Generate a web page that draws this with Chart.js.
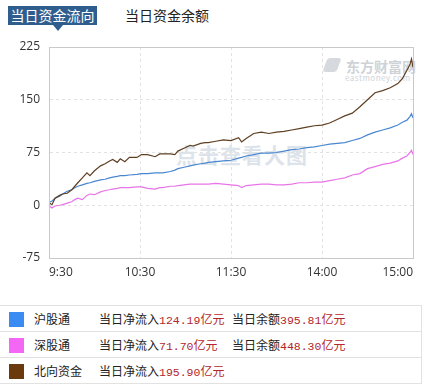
<!DOCTYPE html>
<html>
<head>
<meta charset="utf-8">
<script src="https://cdn.jsdelivr.net/npm/chart.js@4.4.1/dist/chart.umd.min.js"></script>
<style>
  html, body { margin:0; padding:0; background:#fff; }
  body { width:428px; height:389px; position:relative; overflow:hidden;
         font-family:"Noto Sans CJK SC","Noto Sans",sans-serif; color:#222; }
  .tab-on { position:absolute; left:8px; top:6px; width:89px; height:19px; background:#2f5e8e;
            color:#fff; font-size:14px; line-height:19px; text-align:center; }
  .tab-on:after { content:""; position:absolute; left:45px; top:19px; border-left:5px solid transparent;
            border-right:5px solid transparent; border-top:6px solid #2f5e8e; }
  .tab-off { position:absolute; left:125px; top:6px; font-size:14px; line-height:19px; color:#222; }
  #wrap { position:absolute; left:0; top:30px; width:428px; height:260px; }
  .wm1 { position:absolute; left:176px; top:139px; font-size:21px; font-weight:bold; color:#dde3ea; letter-spacing:1px; }
  .wm2 { position:absolute; left:346px; top:56px; font-size:14px; font-weight:bold; color:#cfd3d8; }
  .wm3 { position:absolute; left:345px; top:72px; font-size:8px; color:#cfd3d8; letter-spacing:0.5px; }
  .wm4 { position:absolute; left:325px; top:58px; width:14px; height:14px; border-radius:3px; background:#d6d9dd; transform:skewX(-20deg); }
  canvas { position:relative; z-index:2; }
  .row { position:absolute; left:0; width:422px; height:26px; border-top:1px solid #e2e2e2; font-size:12px; }
  .row span { position:absolute; top:5px; line-height:16px; white-space:nowrap; }
  .sq { position:absolute; left:9px; top:6px; width:15px; height:15px; }
  .num { color:#b3262b; font-family:"Liberation Mono","DejaVu Sans Mono",monospace; font-size:11.5px; }
  .red { color:#b3262b; }
  .bottomline { position:absolute; left:0; top:383px; width:422px; border-top:1px solid #e2e2e2; }
  .rightline { position:absolute; left:421px; top:305px; height:79px; border-left:1px solid #e2e2e2; }
</style>
</head>
<body>
<div class="tab-on">当日资金流向</div>
<div class="tab-off">当日资金余额</div>

<div class="wm1">点击查看大图</div>
<div class="wm4"></div>
<div class="wm2">东方财富网</div>
<div class="wm3">eastmoney.com</div>

<div id="wrap"><canvas id="c" width="428" height="260"></canvas></div>

<div class="row" style="top:305px">
  <div class="sq" style="background:#3a8bf2"></div>
  <span style="left:34px">沪股通</span>
  <span style="left:99px">当日净流入<span class="num" style="position:static">124.19</span><span class="red" style="position:static">亿元</span></span>
  <span style="left:232px">当日余额<span class="num" style="position:static">395.81</span><span class="red" style="position:static">亿元</span></span>
</div>
<div class="row" style="top:331px">
  <div class="sq" style="background:#f466f4"></div>
  <span style="left:34px">深股通</span>
  <span style="left:99px">当日净流入<span class="num" style="position:static">71.70</span><span class="red" style="position:static">亿元</span></span>
  <span style="left:232px">当日余额<span class="num" style="position:static">448.30</span><span class="red" style="position:static">亿元</span></span>
</div>
<div class="row" style="top:357px">
  <div class="sq" style="background:#6b3a0c"></div>
  <span style="left:34px">北向资金</span>
  <span style="left:99px">当日净流入<span class="num" style="position:static">195.90</span><span class="red" style="position:static">亿元</span></span>
</div>
<div class="bottomline"></div>
<div class="rightline"></div>

<script>
// trading minutes since 9:30 (11:30 and 13:00 share minute 120)
const minutes = [0,2,4,7,9,12,15,17,19,22,25,27,30,34,37,40,42,45,47,50,53,58,61,65,70,73,75,80,83,85,89,93,95,100,103,105,110,115,120,125,127,130,135,140,145,150,155,160,165,170,175,180,185,190,195,200,205,210,215,220,225,230,233,236,238,239,240];
// 沪股通 net inflow, 亿元
const shValues = [4,6,10,13,16,20,22,25,27,29,31,32,34,36,37,39,40,41,42,42,43,44,45,45,46,46,46,48,50,52,54,56,57,59,60,61,62,63,64,67,68,70,72,74,74,75,77,79,80,82,83,85,87,88,89,92,95,100,104,107,110,114,118,121,126,130,124];
// 深股通 net inflow, 亿元
const szValues = [-1,-4,-1,0,1,3,5,8,10,8,14,16,15,19,21,22,23,24,25,25,25,26,26,24,23,25,25,27,27,28,29,30,30,30,30,30,31,30,29,28,25,28,29,30,30,29,29,30,32,32,33,33,35,37,39,43,45,52,55,58,60,63,67,70,75,78,72];
// 北向资金 net inflow, 亿元
const nbValues = [3,1,10,14,16,17,22,27,32,39,46,42,49,56,59,63,65,61,66,62,68,68,72,72,69,73,73,73,72,77,81,85,84,88,89,89,91,93,92,96,90,95,102,104,102,104,105,107,109,111,113,114,117,122,127,131,140,150,160,163,167,173,180,192,200,208,196];
// x-axis tick positions (minutes) and labels
const tickMinutes = [0,60,120,180,240];
const tickLabels = ['9:30','10:30','11:30','14:00','15:00'];
const yTicks = [-75,0,75,150,225];

const pts = arr => arr.map((v,i)=>({x:minutes[i], y:v}));

const frame = {
  id:'frame',
  afterDatasetsDraw(chart){
    const {ctx, chartArea:a} = chart;
    ctx.save();
    ctx.strokeStyle = '#c9c9c9';
    ctx.lineWidth = 1;
    ctx.strokeRect(Math.round(a.left)+0.5, Math.round(a.top)+0.5, Math.round(a.right-a.left), Math.round(a.bottom-a.top));
    ctx.restore();
  }
};

new Chart(document.getElementById('c'), {
  type:'line',
  data:{
    datasets:[
      {label:'北向资金', data:pts(nbValues), borderColor:'#5e3f22', borderWidth:1.2, pointRadius:0, tension:0},
      {label:'沪股通', data:pts(shValues), borderColor:'#4a87d0', borderWidth:1.2, pointRadius:0, tension:0},
      {label:'深股通', data:pts(szValues), borderColor:'#e874e8', borderWidth:1.2, pointRadius:0, tension:0}
    ]
  },
  options:{
    responsive:false, animation:false,
    layout:{padding:{top:17, right:15, left:0, bottom:0}},
    plugins:{legend:{display:false}, tooltip:{enabled:false}},
    scales:{
      x:{
        type:'linear', min:0, max:240,
        afterBuildTicks(s){ s.ticks = tickMinutes.map(v=>({value:v})); },
        afterFit(s){ s.height = 32; },
        ticks:{ callback:(v)=>tickLabels[tickMinutes.indexOf(v)], align:'inner', color:'#333',
                font:{size:12, family:'"Open Sans","Noto Sans",sans-serif'}, padding:7, maxRotation:0, autoSkip:false },
        grid:{ color:'#e2e2e2', drawTicks:false },
        border:{ display:true, color:'#c9c9c9', dash:[3,3] }
      },
      y:{
        min:-75, max:225,
        afterBuildTicks(s){ s.ticks = yTicks.map(v=>({value:v})); },
        afterFit(s){ s.width = 49; },
        ticks:{ color:'#333', font:{size:12, family:'"Open Sans","Noto Sans",sans-serif'}, padding:9 },
        grid:{ color:'#e2e2e2', drawTicks:false },
        border:{ display:true, color:'#c9c9c9', dash:[3,3] }
      }
    }
  },
  plugins:[frame]
});
</script>
</body>
</html>
